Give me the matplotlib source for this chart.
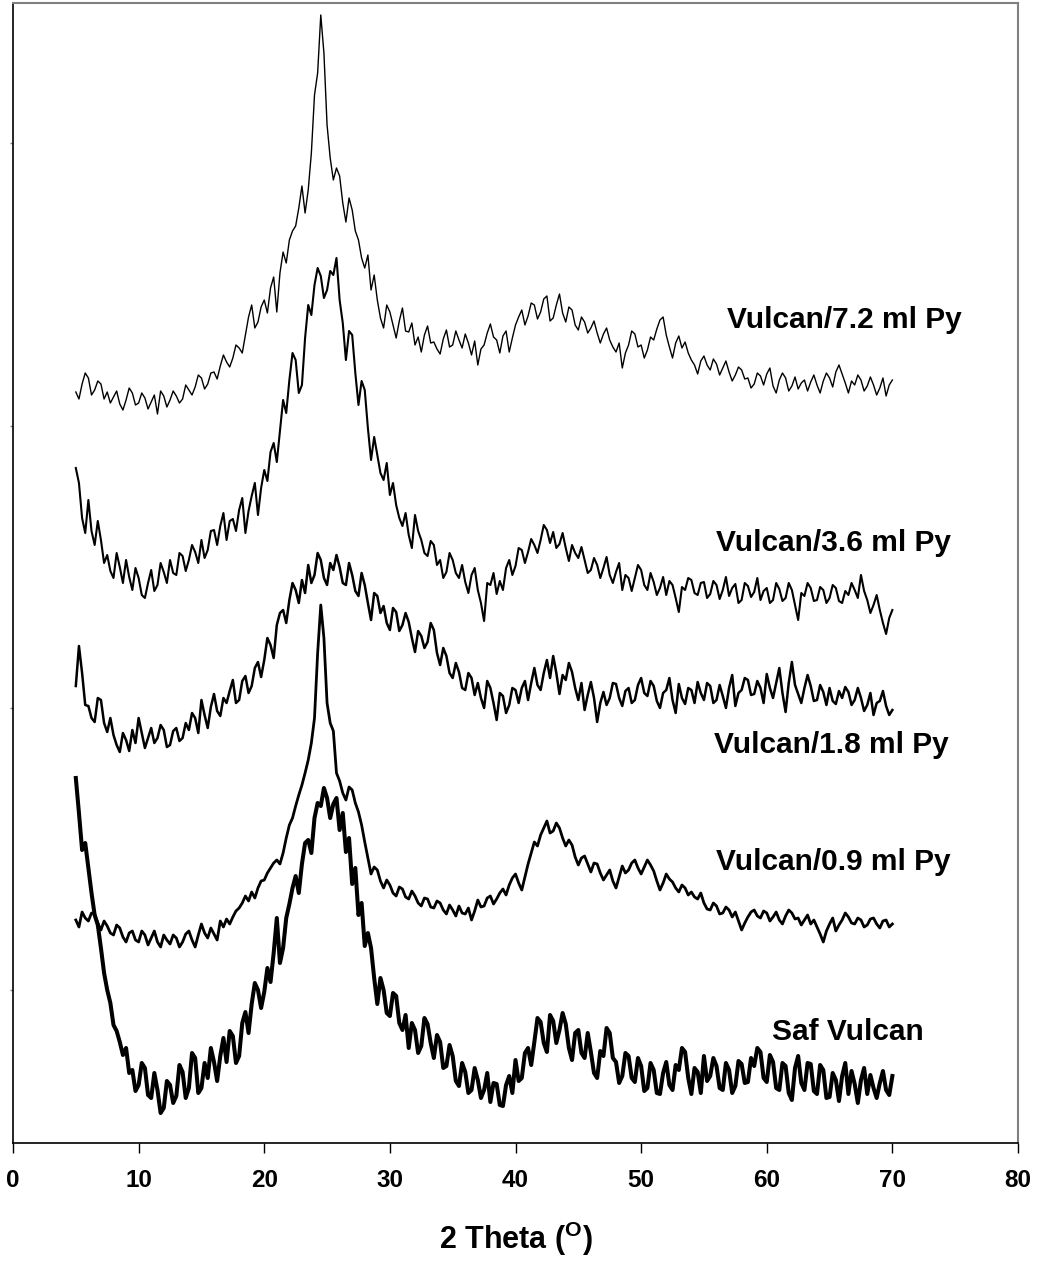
import numpy as np
import matplotlib.pyplot as plt

plt.rcParams['font.family'] = ['Liberation Sans', 'DejaVu Sans']
plt.rcParams['mathtext.fontset'] = 'custom'
plt.rcParams['mathtext.bf'] = 'Liberation Sans:bold'
plt.rcParams['mathtext.rm'] = 'Liberation Sans:bold'

# 2 theta grid (degrees), 0.25 deg steps from 5 to 70
two_theta = np.arange(5.0, 70.001, 0.25)

# intensities (arb. units, stacked offsets); one row = 2 degrees
vulcan_72 = [
    751, 744, 759, 770, 765, 748, 753, 762,
    759, 744, 751, 740, 746, 752, 739, 733,
    743, 755, 750, 738, 740, 750, 745, 734,
    741, 748, 729, 752, 747, 736, 743, 752,
    747, 740, 744, 758, 753, 748, 756, 768,
    765, 754, 759, 770, 771, 764, 777, 788,
    781, 776, 785, 798, 795, 790, 808, 826,
    838, 815, 821, 836, 843, 830, 855, 866,
    831, 870, 891, 880, 903, 912, 917, 935,
    957, 930, 953, 990, 1048, 1070, 1128, 1090,
    1018, 985, 963, 975, 967, 940, 921, 945,
    933, 912, 903, 885, 875, 888, 853, 868,
    843, 825, 815, 838, 831, 818, 805, 822,
    835, 812, 811, 820, 798, 806, 791, 808,
    817, 800, 801, 794, 789, 804, 813, 796,
    798, 812, 803, 795, 809, 800, 788, 802,
    778, 794, 798, 810, 819, 806, 803, 790,
    807, 812, 791, 805, 818, 826, 833, 818,
    827, 840, 838, 824, 831, 844, 847, 822,
    825, 838, 849, 830, 821, 836, 833, 818,
    813, 826, 821, 810, 815, 822, 810, 800,
    809, 815, 803, 796, 791, 800, 775, 790,
    798, 812, 809, 796, 798, 785, 793, 806,
    803, 814, 823, 826, 808, 796, 785, 800,
    807, 795, 801, 790, 783, 778, 769, 782,
    787, 778, 773, 784, 779, 768, 775, 782,
    771, 762, 768, 776, 773, 764, 765, 755,
    759, 770, 767, 758, 769, 775, 757, 750,
    763, 770, 765, 752, 757, 766, 754, 760,
    763, 752, 761, 768, 758, 750, 762, 770,
    765, 756, 771, 778, 769, 760, 750, 762,
    758, 768, 763, 752, 757, 766, 758, 748,
    755, 765, 747, 758, 763]

vulcan_36 = [
    675, 660, 625, 610, 643, 612, 598, 622,
    603, 580, 588, 572, 565, 590, 576, 560,
    583, 566, 553, 575, 565, 548, 545, 560,
    573, 552, 558, 580, 571, 560, 583, 570,
    568, 590, 587, 572, 583, 598, 591, 580,
    603, 585, 593, 612, 613, 598, 617, 630,
    603, 622, 624, 612, 633, 645, 610, 632,
    647, 660, 628, 655, 673, 662, 691, 700,
    681, 712, 743, 730, 763, 790, 783, 750,
    758, 805, 838, 828, 858, 875, 867, 845,
    853, 872, 868, 885, 843, 820, 783, 812,
    808, 770, 738, 762, 753, 715, 683, 706,
    688, 670, 663, 680, 648, 660, 638, 625,
    617, 630, 608, 595, 628, 612, 603, 590,
    587, 602, 598, 578, 583, 565, 571, 590,
    583, 570, 565, 578, 561, 550, 568, 575,
    553, 540, 522, 560, 558, 570, 549, 562,
    553, 575, 583, 568, 577, 595, 593, 580,
    591, 604, 598, 590, 603, 618, 613, 600,
    611, 595, 599, 610, 595, 582, 598, 590,
    585, 596, 583, 570, 573, 585, 578, 565,
    575, 586, 568, 560, 571, 580, 553, 568,
    565, 552, 565, 578, 573, 558, 553, 570,
    561, 548, 555, 566, 548, 562, 558, 545,
    531, 556, 553, 565, 563, 550, 548, 560,
    561, 545, 549, 562, 558, 544, 553, 566,
    547, 555, 559, 540, 543, 560, 557, 546,
    551, 565, 543, 552, 555, 540, 543, 560,
    554, 542, 545, 560, 553, 538, 523, 550,
    547, 560, 555, 542, 543, 556, 553, 540,
    545, 558, 555, 542, 540, 552, 548, 560,
    553, 545, 568, 552, 543, 530, 538, 548,
    533, 520, 509, 525, 533]

vulcan_18 = [
    457, 497, 470, 438, 437, 425, 421, 445,
    443, 420, 411, 425, 408, 398, 391, 410,
    403, 392, 413, 400, 425, 410, 395, 405,
    415, 400, 405, 418, 413, 396, 398, 412,
    415, 402, 405, 420, 413, 430, 425, 410,
    443, 428, 415, 436, 449, 432, 427, 445,
    440, 452, 463, 440, 443, 462, 467, 450,
    457, 475, 481, 466, 483, 505, 498, 485,
    518, 530, 533, 520, 543, 560, 553, 540,
    563, 550, 578, 560, 568, 590, 583, 565,
    558, 580, 573, 588, 576, 560, 558, 580,
    568, 552, 547, 570, 558, 540, 523, 550,
    547, 530, 537, 520, 513, 535, 531, 512,
    518, 530, 521, 505, 491, 512, 507, 495,
    501, 520, 513, 490, 478, 495, 487, 470,
    465, 480, 471, 455, 453, 470, 465, 448,
    460, 445, 435, 462, 455, 440, 423, 450,
    447, 430, 438, 455, 453, 440, 455, 462,
    443, 460, 475, 458, 453, 470, 483, 465,
    487, 470, 449, 468, 463, 480, 471, 455,
    443, 460, 433, 448, 461, 445, 421, 440,
    451, 438, 445, 460, 459, 445, 437, 452,
    455, 440, 443, 458, 465, 450, 447, 462,
    457, 442, 435, 450, 453, 465, 443, 430,
    459, 445, 439, 455, 453, 440, 461, 450,
    443, 460, 457, 440, 443, 458, 447, 435,
    455, 468, 437, 450, 453, 465, 463, 448,
    449, 462, 455, 440, 469, 455, 445, 460,
    475, 450, 431, 460, 481, 458, 449, 440,
    455, 468, 457, 442, 443, 458, 451, 438,
    455, 442, 439, 452, 445, 456, 451, 438,
    443, 455, 445, 432, 438, 450, 428, 440,
    442, 452, 437, 428, 433]

vulcan_09 = [
    223, 216, 231, 225, 222, 230, 229, 220,
    213, 222, 217, 210, 208, 218, 215, 206,
    201, 210, 212, 203, 201, 212, 208, 198,
    205, 212, 201, 196, 208, 203, 199, 208,
    205, 196, 201, 209, 212, 203, 196, 208,
    219, 210, 205, 215, 209, 203, 222, 216,
    224, 219, 226, 232, 235, 240, 247, 242,
    251, 245, 255, 262, 263, 270, 275, 280,
    283, 279, 290, 305, 318, 325, 337, 348,
    358, 370, 383, 400, 425, 490, 538, 505,
    440, 420, 412, 370, 362, 350, 343, 356,
    353, 340, 331, 318, 301, 285, 269, 276,
    273, 262, 255, 263, 258, 250, 247, 256,
    254, 246, 244, 252, 247, 240, 237, 245,
    244, 236, 235, 242, 240, 233, 229, 238,
    233, 227, 237, 230, 229, 235, 223, 232,
    243, 236, 237, 245, 247, 239, 244, 250,
    254, 248, 258, 265, 269, 260, 253, 266,
    279, 290, 301, 297, 308, 315, 322, 310,
    312, 320, 315, 305, 297, 303, 298, 286,
    278, 285, 287, 279, 271, 280, 279, 270,
    263, 268, 273, 262, 255, 266, 277, 270,
    273, 280, 283, 275, 269, 276, 283, 278,
    272, 262, 253, 260, 269, 264, 261, 255,
    251, 258, 255, 248, 251, 246, 244, 250,
    240, 234, 233, 240, 237, 229, 230, 236,
    233, 226, 231, 222, 213, 220, 226, 231,
    233, 227, 225, 232, 230, 222, 226, 231,
    223, 219, 227, 233, 230, 224, 225, 218,
    223, 228, 219, 223, 216, 209, 201, 212,
    219, 225, 212, 218, 223, 230, 226, 220,
    219, 225, 223, 216, 218, 224, 225, 219,
    215, 222, 223, 216, 219]

saf_vulcan = [
    365, 330, 293, 300, 275, 250, 228, 218,
    195, 170, 153, 140, 118, 112, 101, 88,
    95, 70, 73, 52, 58, 80, 75, 48,
    45, 70, 53, 30, 35, 62, 58, 40,
    47, 78, 71, 45, 55, 90, 85, 50,
    55, 80, 65, 95, 81, 62, 87, 105,
    81, 112, 107, 80, 87, 120, 131, 110,
    139, 160, 153, 135, 151, 175, 161, 190,
    225, 180, 195, 225, 239, 255, 267, 250,
    279, 300, 303, 290, 325, 340, 337, 355,
    345, 325, 339, 345, 313, 330, 291, 305,
    259, 275, 228, 240, 197, 210, 195, 165,
    139, 165, 153, 130, 127, 150, 147, 120,
    113, 128, 95, 120, 113, 90, 97, 125,
    119, 100, 85, 108, 101, 75, 77, 98,
    87, 62, 57, 80, 71, 50, 53, 75,
    63, 45, 53, 70, 41, 60, 59, 38,
    37, 58, 67, 50, 83, 62, 65, 90,
    95, 78, 101, 125, 121, 100, 91, 128,
    122, 100, 113, 130, 119, 95, 83, 110,
    113, 90, 85, 110, 91, 70, 65, 92,
    87, 115, 110, 85, 81, 60, 67, 90,
    87, 65, 61, 85, 77, 52, 55, 80,
    73, 50, 49, 70, 81, 58, 53, 78,
    73, 95, 91, 65, 49, 75, 71, 50,
    87, 62, 67, 85, 77, 55, 53, 80,
    73, 50, 57, 82, 79, 60, 61, 85,
    77, 95, 91, 65, 61, 88, 81, 55,
    53, 80, 77, 50, 43, 75, 87, 60,
    53, 80, 79, 52, 49, 78, 73, 45,
    46, 70, 63, 42, 67, 80, 49, 72,
    59, 40, 63, 75, 49, 68, 55, 45,
    60, 72, 53, 48, 67]

series = [vulcan_72, vulcan_36, vulcan_18, vulcan_09, saf_vulcan]
names = ['Vulcan/7.2 ml Py', 'Vulcan/3.6 ml Py', 'Vulcan/1.8 ml Py', 'Vulcan/0.9 ml Py', 'Saf Vulcan']
widths = [1.0, 1.5, 1.8, 2.0, 2.9]
# label anchor (2 theta, intensity) for each trace name
label_x = [56.8, 56.0, 55.8, 56.0, 60.4]
label_y = [823, 600, 398, 281, 111]

fig = plt.figure(figsize=(10.43, 12.62), dpi=100)
ax = fig.add_axes([13/1043, 1-1143/1262, 1005/1043, 1140/1262])

for ys, lw in zip(series, widths):
    if len(ys) != len(two_theta):
        raise ValueError('length mismatch %d' % len(ys))
    ax.plot(two_theta, ys, color='black', lw=lw)

for nm, lx, ly in zip(names, label_x, label_y):
    ax.text(lx, ly, nm, fontsize=21.5, fontweight='bold', ha='left', va='center')

ax.set_xlim(0, 80)
ax.set_ylim(0, 1140)
ax.set_xticks(np.arange(0, 81, 10))
ax.set_yticks([153, 435, 717, 1000])
ax.set_yticklabels([])
ax.tick_params(axis='x', direction='out', length=7, width=1, labelsize=17.5, pad=12)
ax.tick_params(axis='y', direction='out', length=2, width=1, color='gray')
for lab in ax.get_xticklabels():
    lab.set_fontweight('bold')

ax.spines['left'].set_linewidth(1.2)
ax.spines['bottom'].set_linewidth(1.2)
ax.spines['top'].set_color('gray')
ax.spines['right'].set_color('gray')
ax.spines['top'].set_linewidth(1.5)
ax.spines['right'].set_linewidth(1.5)

ax.set_xlabel(r'2 Theta ($^\mathbf{O}$)', fontsize=22, fontweight='bold', labelpad=20)

fig.savefig('out.png', dpi=100)
